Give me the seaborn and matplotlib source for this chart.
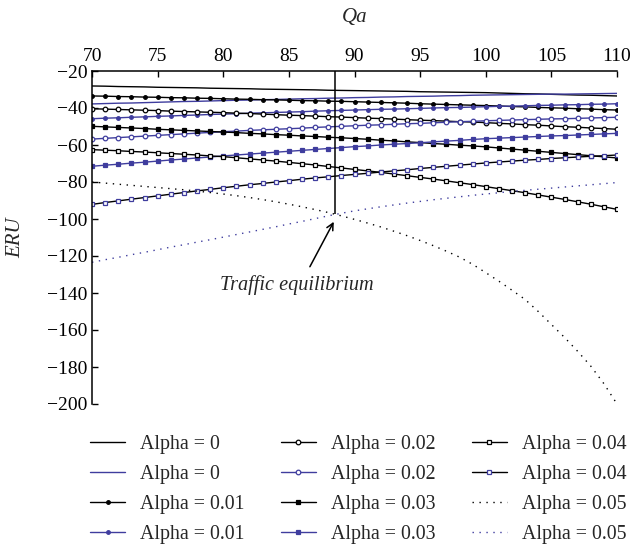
import numpy as np
import pandas as pd
import matplotlib
matplotlib.use("Agg")
import matplotlib.pyplot as plt
import seaborn as sns

# ---------------- data ----------------
qa = list(range(70, 111))

a00_black = [-28.1, -28.2, -28.4, -28.5, -28.6, -28.8, -28.9, -29.0, -29.1, -29.3, -29.4,
             -29.5, -29.6, -29.8, -29.9, -30.0, -30.1, -30.2, -30.4, -30.5, -30.6,
             -30.7, -30.8, -30.9, -31.0, -31.2, -31.3, -31.4, -31.5, -31.6, -31.7,
             -31.9, -32.1, -32.3, -32.4, -32.6, -32.8, -33.0, -33.1, -33.3, -33.5]
a00_blue = [-37.8, -37.6, -37.4, -37.3, -37.1, -36.9, -36.7, -36.5, -36.4, -36.2, -36.0,
            -35.8, -35.7, -35.5, -35.4, -35.2, -35.0, -34.9, -34.7, -34.6, -34.4,
            -34.3, -34.1, -34.0, -33.8, -33.7, -33.6, -33.4, -33.3, -33.1, -33.0,
            -32.9, -32.8, -32.7, -32.6, -32.5, -32.5, -32.4, -32.3, -32.2, -32.1]
a01_black = [-33.5, -33.6, -33.8, -33.9, -34.1, -34.2, -34.4, -34.5, -34.7, -34.8, -35.0,
             -35.2, -35.3, -35.5, -35.6, -35.8, -36.0, -36.1, -36.3, -36.4, -36.6,
             -36.8, -37.0, -37.2, -37.4, -37.7, -37.9, -38.1, -38.3, -38.5, -38.7,
             -38.9, -39.2, -39.4, -39.7, -39.9, -40.1, -40.4, -40.6, -40.9, -41.1]
a01_blue = [-45.8, -45.5, -45.3, -45.0, -44.8, -44.5, -44.3, -44.0, -43.8, -43.5, -43.3,
            -43.1, -42.8, -42.6, -42.4, -42.2, -42.0, -41.7, -41.5, -41.3, -41.1,
            -40.9, -40.7, -40.6, -40.4, -40.2, -40.0, -39.8, -39.7, -39.5, -39.3,
            -39.1, -39.0, -38.8, -38.6, -38.5, -38.3, -38.2, -38.0, -37.9, -37.7]
a02_black = [-40.4, -40.6, -40.8, -41.0, -41.2, -41.4, -41.7, -41.9, -42.1, -42.3, -42.5,
             -42.8, -43.0, -43.3, -43.6, -43.9, -44.1, -44.4, -44.7, -44.9, -45.2,
             -45.5, -45.7, -46.0, -46.3, -46.6, -46.8, -47.1, -47.4, -47.6, -47.9,
             -48.3, -48.6, -49.0, -49.3, -49.7, -50.1, -50.4, -50.8, -51.1, -51.5]
a02_blue = [-56.8, -56.4, -56.0, -55.6, -55.2, -54.8, -54.4, -54.0, -53.6, -53.2, -52.8,
            -52.5, -52.1, -51.8, -51.5, -51.2, -50.9, -50.5, -50.2, -49.9, -49.6,
            -49.3, -49.1, -48.8, -48.5, -48.3, -48.0, -47.7, -47.4, -47.2, -46.9,
            -46.7, -46.5, -46.3, -46.1, -45.9, -45.8, -45.6, -45.4, -45.2, -45.0]
a03_black = [-49.9, -50.2, -50.5, -50.8, -51.1, -51.5, -51.8, -52.1, -52.4, -52.7, -53.0,
             -53.3, -53.7, -54.0, -54.4, -54.7, -55.1, -55.4, -55.8, -56.1, -56.5,
             -56.9, -57.4, -57.8, -58.3, -58.7, -59.2, -59.6, -60.1, -60.5, -61.0,
             -61.6, -62.2, -62.8, -63.4, -64.0, -64.6, -65.2, -65.8, -66.4, -67.0]
a03_blue = [-71.5, -70.9, -70.4, -69.8, -69.3, -68.7, -68.1, -67.6, -67.0, -66.5, -65.9,
            -65.4, -64.9, -64.4, -63.9, -63.4, -62.9, -62.4, -61.9, -61.4, -60.9,
            -60.5, -60.0, -59.6, -59.2, -58.8, -58.3, -57.9, -57.5, -57.0, -56.6,
            -56.3, -56.0, -55.7, -55.4, -55.1, -54.9, -54.6, -54.3, -54.0, -53.7]
a04_black = [-62.5, -62.8, -63.1, -63.5, -63.8, -64.2, -64.6, -65.0, -65.4, -65.9, -66.3,
             -66.9, -67.5, -68.1, -68.7, -69.4, -70.1, -70.8, -71.6, -72.4, -73.2,
             -74.0, -74.8, -75.7, -76.6, -77.5, -78.4, -79.4, -80.4, -81.4, -82.5,
             -83.6, -84.7, -85.8, -87.0, -88.2, -89.4, -90.7, -92.0, -93.4, -94.8]
a04_blue = [-92.1, -91.1, -90.2, -89.3, -88.4, -87.5, -86.6, -85.7, -84.8, -84.0, -83.1,
            -82.3, -81.5, -80.8, -80.0, -79.3, -78.5, -77.8, -77.2, -76.5, -75.9,
            -75.3, -74.6, -74.0, -73.4, -72.7, -72.1, -71.5, -70.9, -70.3, -69.7,
            -69.2, -68.7, -68.2, -67.8, -67.3, -66.9, -66.5, -66.1, -65.8, -65.4]
a05_black = [-80.0, -80.6, -81.2, -81.8, -82.4, -83.0, -83.6, -84.2, -84.9, -85.7, -86.5,
             -87.4, -88.4, -89.5, -90.7, -92.0, -93.4, -94.9, -96.5, -98.3, -100.2,
             -102.2, -104.3, -106.6, -109.0, -111.6, -114.4, -117.4, -120.6, -124.5, -129.0,
             -133.6, -138.5, -143.5, -150.0, -157.0, -164.0, -171.5, -179.5, -189.0, -200.0]
a05_blue = [-123.4, -122.0, -120.7, -119.3, -118.0, -116.6, -115.2, -113.9, -112.5, -111.2, -109.8,
            -108.4, -107.0, -105.6, -104.2, -102.7, -101.3, -99.8, -98.3, -96.9, -95.6,
            -94.5, -93.4, -92.4, -91.4, -90.5, -89.6, -88.8, -88.0, -87.2, -86.5,
            -85.8, -85.1, -84.5, -83.9, -83.3, -82.7, -82.1, -81.5, -80.9, -80.3]

labels = ["Alpha = 0", "Alpha = 0", "Alpha = 0.01", "Alpha = 0.01",
          "Alpha = 0.02", "Alpha = 0.02", "Alpha = 0.03", "Alpha = 0.03",
          "Alpha = 0.04", "Alpha = 0.04", "Alpha = 0.05", "Alpha = 0.05"]
x_ticks = [70, 75, 80, 85, 90, 95, 100, 105, 110]
y_ticks = [-20, -40, -60, -80, -100, -120, -140, -160, -180, -200]
eq_qa = 88.5
eq_eru = -97.5
note_text = "Traffic equilibrium"
note_pos = (85.6, -135.7)
arrow_tail = (86.6, -125.8)
arrow_head = (88.42, -101.5)

# ---------------- styling ----------------
sns.set_style("ticks")
plt.rcParams["font.family"] = ["Liberation Serif", "DejaVu Serif"]

BLK = "#000000"
BLU = "#3f3d9e"

series = [
    (a00_black, dict(color=BLK, linestyle="-")),
    (a00_blue, dict(color=BLU, linestyle="-")),
    (a01_black, dict(color=BLK, marker="o", ms=2.6, mfc=BLK, mec=BLK)),
    (a01_blue, dict(color=BLU, marker="o", ms=2.6, mfc=BLU, mec=BLU)),
    (a02_black, dict(color=BLK, marker="o", ms=3.3, mfc="white", mec=BLK)),
    (a02_blue, dict(color=BLU, marker="o", ms=3.3, mfc="white", mec=BLU)),
    (a03_black, dict(color=BLK, marker="s", ms=3.0, mfc=BLK, mec=BLK)),
    (a03_blue, dict(color=BLU, marker="s", ms=3.0, mfc=BLU, mec=BLU)),
    (a04_black, dict(color=BLK, marker="s", ms=3.4, mfc="white", mec=BLK)),
    (a04_blue, dict(color=BLK, marker="s", ms=3.4, mfc="white", mec=BLU)),
    (a05_black, dict(color=BLK, linestyle=(0, (1, 4)))),
    (a05_blue, dict(color=BLU, linestyle=(0, (1, 4)))),
]

fig = plt.figure(figsize=(6.33, 5.48), dpi=100)
ax = fig.add_axes([92 / 633, 1 - 404 / 548, (617 - 92) / 633, (404 - 71) / 548])

handles = []
for (vals, st), lab in zip(series, labels):
    df = pd.DataFrame({"Qa": qa, "ERU": vals})
    kw = dict(st)
    mfc = kw.pop("mfc", None)
    mec = kw.pop("mec", None)
    ms = kw.pop("ms", None)
    extra = {}
    if "marker" in kw:
        extra = dict(markerfacecolor=mfc, markeredgecolor=mec, markersize=ms,
                     markeredgewidth=0.9)
    sns.lineplot(data=df, x="Qa", y="ERU", ax=ax, linewidth=1.0, label=lab,
                 legend=False, **kw, **extra)
    handles.append(ax.get_lines()[-1])

ax.vlines(eq_qa, eq_eru, y_ticks[0], color=BLK, linewidth=1.1)
ax.annotate("", xy=arrow_head, xytext=arrow_tail,
            arrowprops=dict(arrowstyle="->", color=BLK, lw=1.1,
                            shrinkA=0, shrinkB=0, mutation_scale=12))
ax.text(note_pos[0], note_pos[1], note_text, ha="center", va="center",
        fontsize=14.6, style="italic")

ax.set_xlim(70, 110)
ax.set_ylim(-200, -20)
ax.set_xticks(x_ticks)
ax.set_yticks(y_ticks)
ax.set_yticklabels([f"\u2212{abs(v)}" for v in y_ticks])
ax.xaxis.tick_top()
ax.xaxis.set_label_position("top")
ax.tick_params(axis="both", direction="in", length=4.5, width=1.0,
               labelsize=14, colors=BLK)
ax.tick_params(axis="x", pad=4)
ax.tick_params(axis="y", pad=3)
for side in ["bottom", "right"]:
    ax.spines[side].set_visible(False)
for side in ["top", "left"]:
    ax.spines[side].set_linewidth(1.1)
    ax.spines[side].set_color(BLK)

ax.set_xlabel("Qa", fontsize=15, style="italic", labelpad=19)
ax.set_ylabel("ERU", fontsize=15, style="italic", labelpad=16)

fig.legend(handles, labels, ncol=3, loc="upper left",
           bbox_to_anchor=(90 / 633, 1 - 435 / 548), frameon=False,
           fontsize=14.3, handlelength=1.78, handletextpad=0.76,
           columnspacing=1.8, labelspacing=0.56, borderpad=0, borderaxespad=0)

fig.savefig("out.png", dpi=100)
